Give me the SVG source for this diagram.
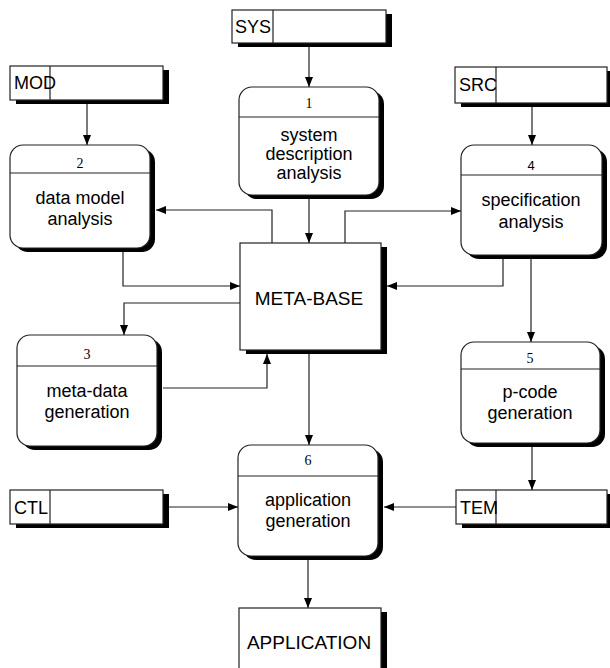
<svg xmlns="http://www.w3.org/2000/svg" width="610" height="668" viewBox="0 0 610 668">
<defs>
<style>
.box{fill:#fff;stroke:#222;stroke-width:1.2}
.sh{fill:#000}
.div{stroke:#222;stroke-width:1.2}
.lbl{font-family:"Liberation Sans",Arial,sans-serif;font-size:18px;fill:#000;text-anchor:middle}
.big{font-family:"Liberation Sans",Arial,sans-serif;font-size:19px;fill:#000;text-anchor:middle}
.st{font-family:"Liberation Sans",Arial,sans-serif;font-size:18px;fill:#000}
.num{font-family:"Liberation Serif","Times New Roman",serif;font-size:14px;fill:#000;text-anchor:middle}
.numS{font-family:"Liberation Sans",Arial,sans-serif;font-size:13px;fill:#000;text-anchor:middle}
.cn{fill:none;stroke:#222;stroke-width:1.2}
</style>
<marker id="ah" viewBox="0 0 10 8" refX="10" refY="4" markerWidth="10" markerHeight="8" markerUnits="userSpaceOnUse" orient="auto">
<path d="M0,0 L10,4 L0,8 Z" fill="#000"/>
</marker>
</defs>
<rect width="610" height="668" fill="#fff"/>

<g id="connectors">
<path class="cn" marker-end="url(#ah)" d="M309,47 V87"/>
<path class="cn" marker-end="url(#ah)" d="M87,104 V145"/>
<path class="cn" marker-end="url(#ah)" d="M532,107 V145"/>
<path class="cn" marker-end="url(#ah)" d="M309,198 V243"/>
<path class="cn" marker-end="url(#ah)" d="M272,243 V210 H156"/>
<path class="cn" marker-end="url(#ah)" d="M345,243 V211 H461"/>
<path class="cn" marker-end="url(#ah)" d="M123,251 V286 H240"/>
<path class="cn" marker-end="url(#ah)" d="M503,258 V286 H387"/>
<path class="cn" marker-end="url(#ah)" d="M240,303 H124 V335"/>
<path class="cn" marker-end="url(#ah)" d="M163,388 H267 V354"/>
<path class="cn" marker-end="url(#ah)" d="M531,258 V342"/>
<path class="cn" marker-end="url(#ah)" d="M309,354 V445"/>
<path class="cn" marker-end="url(#ah)" d="M532,446 V490"/>
<path class="cn" marker-end="url(#ah)" d="M169,507 H238"/>
<path class="cn" marker-end="url(#ah)" d="M456,507 H384"/>
<path class="cn" marker-end="url(#ah)" d="M308,559 V608"/>
</g>

<g id="SYS">
<rect class="sh" x="238" y="14" width="154" height="33"/>
<rect class="box" x="232" y="10" width="154" height="33"/>
<line class="div" x1="273" y1="10" x2="273" y2="43"/>
<text class="st" x="235" y="33">SYS</text>
</g>
<g id="MOD">
<rect class="sh" x="16" y="70" width="153" height="34"/>
<rect class="box" x="10" y="66" width="153" height="34"/>
<line class="div" x1="50" y1="66" x2="50" y2="100"/>
<text class="st" x="14" y="89">MOD</text>
</g>
<g id="SRC">
<rect class="sh" x="461" y="71" width="152" height="36"/>
<rect class="box" x="455" y="67" width="152" height="36"/>
<line class="div" x1="496" y1="67" x2="496" y2="103"/>
<text class="st" x="459" y="91">SRC</text>
</g>
<g id="CTL">
<rect class="sh" x="16" y="494" width="153" height="34"/>
<rect class="box" x="10" y="490" width="153" height="34"/>
<line class="div" x1="50" y1="490" x2="50" y2="524"/>
<text class="st" x="14" y="514">CTL</text>
</g>
<g id="TEM">
<rect class="sh" x="462" y="494" width="151" height="34"/>
<rect class="box" x="456" y="490" width="151" height="34"/>
<line class="div" x1="496" y1="490" x2="496" y2="524"/>
<text class="st" x="460" y="514">TEM</text>
</g>

<g id="P1">
<rect class="sh" x="244" y="91" width="140" height="108" rx="13"/>
<rect class="box" x="239" y="87" width="140" height="108" rx="13"/>
<line class="div" x1="239" y1="117" x2="379" y2="117"/>
<text class="num" x="309" y="108">1</text>
<text class="lbl" x="309" y="141">system</text>
<text class="lbl" x="309" y="160">description</text>
<text class="lbl" x="309" y="179">analysis</text>
</g>
<g id="P2">
<rect class="sh" x="15" y="149" width="140" height="103" rx="13"/>
<rect class="box" x="10" y="145" width="140" height="103" rx="13"/>
<line class="div" x1="10" y1="173" x2="150" y2="173"/>
<text class="num" x="80" y="168">2</text>
<text class="lbl" x="80" y="204">data model</text>
<text class="lbl" x="80" y="225">analysis</text>
</g>
<g id="P3">
<rect class="sh" x="22" y="339" width="140" height="111" rx="13"/>
<rect class="box" x="17" y="335" width="140" height="111" rx="13"/>
<line class="div" x1="17" y1="366" x2="157" y2="366"/>
<text class="num" x="87" y="359">3</text>
<text class="lbl" x="87" y="397">meta-data</text>
<text class="lbl" x="87" y="418">generation</text>
</g>
<g id="P4">
<rect class="sh" x="466" y="149" width="141" height="110" rx="13"/>
<rect class="box" x="461" y="145" width="141" height="110" rx="13"/>
<line class="div" x1="461" y1="175" x2="602" y2="175"/>
<text class="numS" x="531" y="170">4</text>
<text class="lbl" x="531" y="206">specification</text>
<text class="lbl" x="531" y="228">analysis</text>
</g>
<g id="P5">
<rect class="sh" x="466" y="346" width="139" height="101" rx="13"/>
<rect class="box" x="461" y="342" width="139" height="101" rx="13"/>
<line class="div" x1="461" y1="369" x2="600" y2="369"/>
<text class="num" x="530" y="363">5</text>
<text class="lbl" x="530" y="398">p-code</text>
<text class="lbl" x="530" y="419">generation</text>
</g>
<g id="P6">
<rect class="sh" x="243" y="449" width="140" height="111" rx="13"/>
<rect class="box" x="238" y="445" width="140" height="111" rx="13"/>
<line class="div" x1="238" y1="476" x2="378" y2="476"/>
<text class="num" x="308" y="465">6</text>
<text class="lbl" x="308" y="506">application</text>
<text class="lbl" x="308" y="527">generation</text>
</g>

<g id="METABASE">
<rect class="sh" x="246" y="247" width="141" height="107"/>
<rect class="box" x="240" y="243" width="141" height="107"/>
<text class="big" x="309" y="305">META-BASE</text>
</g>
<g id="APPLICATION">
<rect class="sh" x="245" y="612" width="142" height="70"/>
<rect class="box" x="239" y="608" width="142" height="70"/>
<text class="big" x="309" y="649">APPLICATION</text>
</g>
</svg>
